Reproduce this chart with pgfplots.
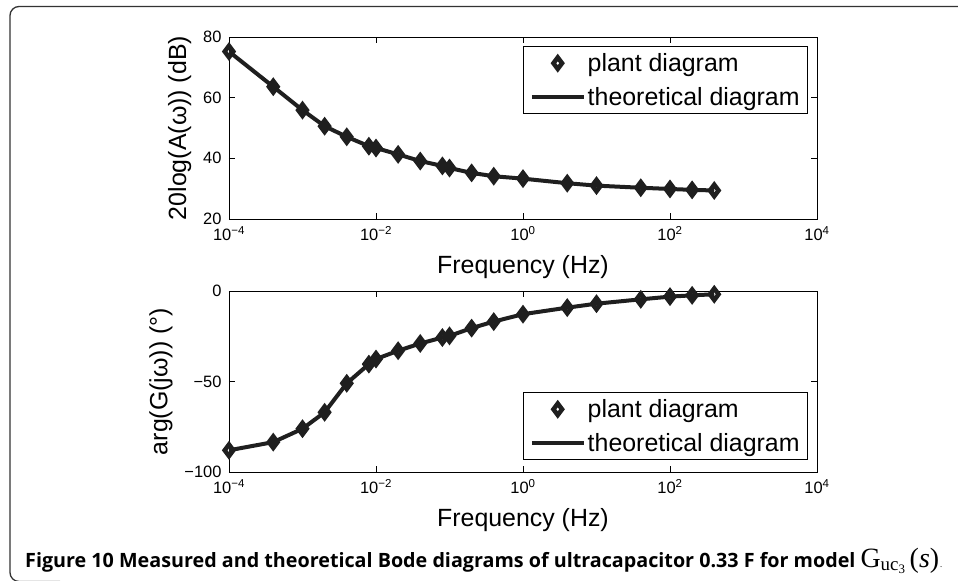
\documentclass[border=0pt]{standalone}
\usepackage{fontspec}
\setmainfont{Liberation Sans}
\newfontfamily\capfont{Open Sans}
\newfontfamily\timesf{Liberation Serif}
\usepackage{pgfplots}
\usepackage{pgfplotstable}
\pgfplotsset{compat=1.18}
\definecolor{ink}{rgb}{0.12,0.12,0.12}
\pgfplotsset{
  mklegend/.style={legend image code/.code={\draw[##1] plot coordinates {(26bp,0bp)};}},
  lnlegend/.style={legend image code/.code={\draw[##1] (0bp,0bp) -- (52bp,0bp);}},
}
\pgfplotstableread{
f mag ph
1e-4 75.2 -88
4e-4 63.6 -83.5
1e-3 55.9 -76.1
2e-3 50.6 -67
4e-3 47.1 -51
8e-3 44.0 -40.4
1e-2 43.4 -37.6
2e-2 41.3 -33
4e-2 39.1 -29
8e-2 37.5 -25.7
0.1 36.8 -24.8
0.2 35.2 -20.5
0.4 34.1 -16.9
1 33.3 -12.8
4 31.8 -9.2
10 31.0 -7
40 30.3 -4.6
100 29.9 -3.1
200 29.6 -2.4
400 29.4 -1.8
}\bode
\begin{document}
\begin{tikzpicture}
\path[use as bounding box] (0bp,0bp) rectangle (958bp,-581bp);
\draw[line width=1.3bp, black!80, rounded corners=9bp] (970bp,-6.5bp) -- (10bp,-6.5bp) -- (10bp,-581.5bp) -- (60bp,-581.5bp);
\begin{axis}[at={(229bp,-37bp)}, anchor=north west,
  scale only axis, width=588bp, height=182bp,
  xmode=log, xmin=1e-4, xmax=1e4,
  xtick={1e-4,1e-2,1,1e2,1e4},
  xticklabels={10\textsuperscript{−4},10\textsuperscript{−2},10\textsuperscript{0},10\textsuperscript{2},10\textsuperscript{4}},
  ymin=20, ymax=80, ytick={20,40,60,80}, yticklabels={20,40,60,80},
  tick label style={font=\fontsize{16.5}{18}\selectfont},
  xticklabel style={yshift=-4bp}, yticklabel style={xshift=-4bp},
  label style={font=\fontsize{25}{28}\selectfont},
  xlabel={Frequency (Hz)}, xlabel shift=8bp,
  ylabel={20log(A(ω)) (dB)}, ylabel shift=5bp,
  tick align=inside, tick pos=both, major tick length=6bp,
  xminorticks=false,
  axis line style={line width=0.9bp, black},
  every tick/.style={black, line width=0.8bp},
  legend style={font=\fontsize{25}{30}\selectfont, draw=black, line width=0.9bp,
    inner xsep=6bp, inner ysep=5bp, row sep=10bp, cells={anchor=west},
    at={(1,1)}, anchor=north east, xshift=-9bp, yshift=-9bp},
  legend cell align=left]
\addplot[only marks, mark=diamond, mark size=5.75bp,
    mark options={draw=ink, fill=white, line width=4.5bp, solid}, mklegend]
  table[x=f,y=mag]{\bode};
\addplot[ink, line width=4bp, no marks, lnlegend]
  table[x=f,y=mag]{\bode};
\legend{plant diagram, theoretical diagram}
\end{axis}
\begin{axis}[at={(229bp,-291bp)}, anchor=north west,
  scale only axis, width=588bp, height=181bp,
  xmode=log, xmin=1e-4, xmax=1e4,
  xtick={1e-4,1e-2,1,1e2,1e4},
  xticklabels={10\textsuperscript{−4},10\textsuperscript{−2},10\textsuperscript{0},10\textsuperscript{2},10\textsuperscript{4}},
  ymin=-100, ymax=0, ytick={-100,-50,0}, yticklabels={−100,−50,0},
  tick label style={font=\fontsize{16.5}{18}\selectfont},
  xticklabel style={yshift=-4bp}, yticklabel style={xshift=-4bp},
  label style={font=\fontsize{25}{28}\selectfont},
  xlabel={Frequency (Hz)}, xlabel shift=8bp,
  ylabel={arg(G(jω)) (°)}, ylabel shift=5bp,
  tick align=inside, tick pos=both, major tick length=6bp,
  xminorticks=false,
  axis line style={line width=0.9bp, black},
  every tick/.style={black, line width=0.8bp},
  legend style={font=\fontsize{25}{30}\selectfont, draw=black, line width=0.9bp,
    inner xsep=6bp, inner ysep=5bp, row sep=10bp, cells={anchor=west},
    at={(1,0)}, anchor=south east, xshift=-9bp, yshift=12bp},
  legend cell align=left]
\addplot[only marks, mark=diamond, mark size=5.75bp,
    mark options={draw=ink, fill=white, line width=4.5bp, solid}, mklegend]
  table[x=f,y=ph]{\bode};
\addplot[ink, line width=4bp, no marks, lnlegend]
  table[x=f,y=ph]{\bode};
\legend{plant diagram, theoretical diagram}
\end{axis}
\node[anchor=base west, inner sep=0pt] at (25bp,-567bp) {\capfont\bfseries\fontsize{19.8}{21}\selectfont Figure 10 Measured and theoretical Bode diagrams of ultracapacitor 0.33 F for model {\timesf\mdseries\fontsize{28}{29}\selectfont G\raisebox{-0.3ex}{\fontsize{19}{19}\selectfont uc\raisebox{-0.35ex}{\fontsize{13}{13}\selectfont 3}}\,(\textit{s})}\kern1bp{\mdseries\fontsize{8}{8}\selectfont .}};
\end{tikzpicture}
\end{document}
